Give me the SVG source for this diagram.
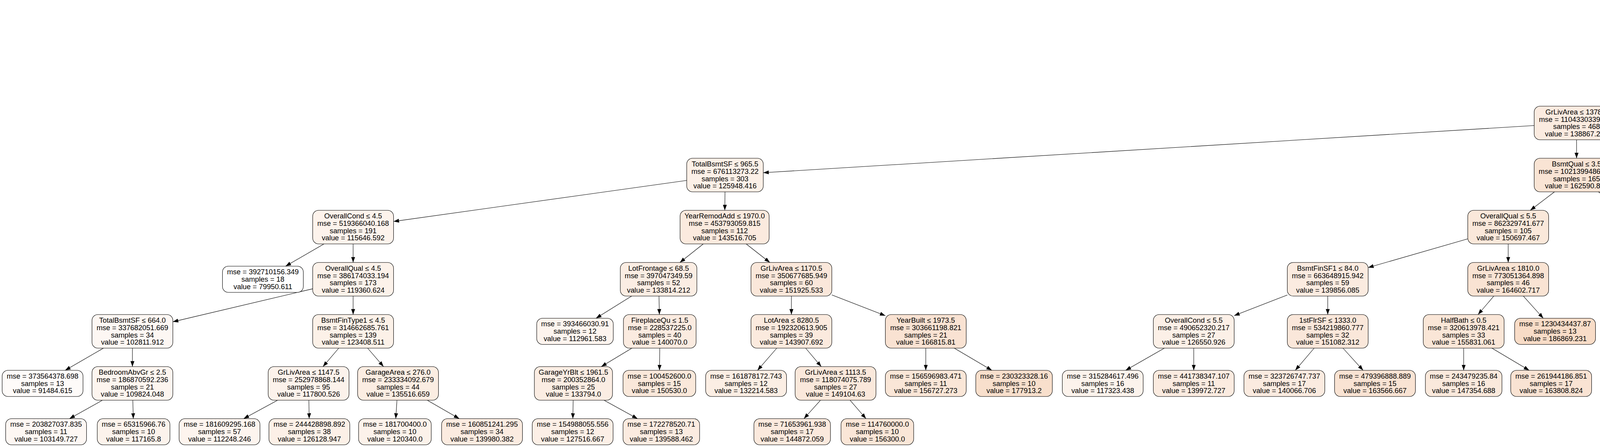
<svg xmlns="http://www.w3.org/2000/svg" width="7531" height="1144" viewBox="0 0 7531 1144">
<style>
.b{stroke:#000;stroke-width:1.1;rx:15px;ry:15px}
text{font-family:"Liberation Sans",Arial,Helvetica,sans-serif;font-size:17.6px;text-anchor:middle;fill:#000}
.e path{stroke:#000;stroke-width:1.1;fill:none;marker-end:url(#ah)}
</style>
<defs>
<marker id="ah" markerUnits="userSpaceOnUse" viewBox="0 0 14 10" refX="14" refY="5" markerWidth="14" markerHeight="10" orient="auto"><path d="M0 0L14 5L0 10z" fill="#000"/></marker>
</defs>
<rect width="7531" height="1144" fill="#fff"/>
<g id="connectors" class="e">
<path d="M6084.5 78.1L5820.5 151.2"/><path d="M6301.5 73.5L6651.5 155.8"/>
<path d="M5603.5 189.9L4144.5 306.1"/><path d="M5712 224.3L5712 271.7"/><path d="M6760 224.3L6760 271.7"/><path d="M6868.5 216.2L7060.5 278.2"/>
<path d="M3927.5 321.3L1954 442"/><path d="M4036 357.7L4036 405"/><path d="M5672.3 357.7L5628.7 405"/><path d="M5752.6 357.7L5797.4 405"/><path d="M6706.1 357.7L6646.9 405"/><path d="M6815.5 357.7L6876.5 405"/><path d="M7174 357.7L7174 414.5"/><path d="M7251.4 357.7L7353.7 414.5"/>
<path d="M1758 461.7L1007.5 566.8"/><path d="M1856 491L1855.5 538.3"/><path d="M3979.5 491L3917.5 538.3"/><path d="M4092.1 491L4153.9 538.3"/><path d="M5512.5 491L5428.5 538.3"/><path d="M5592.5 491L5596.5 538.3"/><path d="M5836.1 491L5833.5 547.8"/><path d="M5913.2 491L6012.4 547.8"/><path d="M6502.4 491L6402.6 538.3"/><path d="M6592.7 491L6592.3 538.3"/><path d="M6939.7 491L6948.3 538.3"/><path d="M7015.6 491L7125.9 547.8"/>
<path d="M829.5 624.3L731.1 681.2"/><path d="M904 624.3L904 671.7"/><path d="M1800.5 624.3L1740.5 671.7"/><path d="M1910.2 624.3L1970.8 671.7"/><path d="M3757.5 611.2L3502.5 684.8"/><path d="M3861 624.3L3861 671.7"/><path d="M4210 624.3L4210 671.7"/><path d="M4282.9 624.3L4379.2 681.2"/><path d="M5271 624.3L5182 671.7"/><path d="M5352 624.3L5352 671.7"/><path d="M5600.6 624.3L5601.5 681.2"/><path d="M5673.6 624.3L5770.7 681.2"/><path d="M6234.3 624.3L6148.7 671.7"/><path d="M6310.1 624.3L6307.5 681.2"/><path d="M6571 624.3L6543.3 681.2"/><path d="M6640.4 624.3L6704.3 681.2"/><path d="M6961.5 624.3L6968.7 681.2"/><path d="M7040.2 624.3L7151.4 681.2"/>
<path d="M800.5 739.1L442.5 823.6"/><path d="M904 757.7L904 805"/><path d="M1617 757.7L1525.8 814.5"/><path d="M1687 757.7L1688 805"/><path d="M2026 757.7L2026 805"/><path d="M2129.5 754.8L2266.5 807.9"/><path d="M3295.5 754.9L3159.5 807.8"/><path d="M3399 757.7L3399 805"/><path d="M3824.2 757.7L3783.8 805"/><path d="M3899.7 757.7L3950.8 814.5"/><path d="M4210 757.7L4209.3 805"/><path d="M4284.8 757.7L4383.7 814.5"/><path d="M5032.9 757.7L4958.1 805"/><path d="M5107.5 757.7L5114.5 805"/><path d="M5352 757.7L5352 814.5"/><path d="M5427.2 757.7L5526.4 814.5"/><path d="M6035.5 757.7L5988.6 814.5"/><path d="M6106.8 757.7L6146.2 805"/>
<path d="M264.8 891L166.8 947.8"/><path d="M339 891L339 938.3"/><path d="M867.2 891L826.8 938.3"/><path d="M941.1 891L981.9 938.3"/><path d="M1617.7 891L1539.3 938.3"/><path d="M1689 891L1688.3 947.8"/><path d="M1988.6 891L1939.2 947.8"/><path d="M2062.5 891L2102.5 938.3"/><path d="M2370 891L2370 947.8"/><path d="M2442.9 891L2539.2 947.8"/><path d="M2980.8 891L2881.6 947.8"/><path d="M3056 891L3056 947.8"/><path d="M3364.2 891L3315.9 947.8"/><path d="M3438 891L3489.6 947.8"/><path d="M3747 891L3747 947.8"/><path d="M3819.3 891L3914.7 947.8"/><path d="M4205.5 891L4200.8 947.8"/><path d="M4277.7 891L4368.5 947.8"/><path d="M4815.5 891L4733.5 938.3"/><path d="M4890 891L4890 938.3"/><path d="M5121 891L5120.3 947.8"/><path d="M5196.2 891L5295.4 947.8"/><path d="M6144.6 891L6095.2 947.8"/><path d="M6219.4 891L6268.8 947.8"/>
<path d="M262.2 1024.3L177.8 1071.5"/><path d="M340 1024.3L341.2 1071.5"/><path d="M710.7 1024.3L623.7 1071.5"/><path d="M790.7 1024.3L791.5 1071.5"/><path d="M1016.2 1024.3L1013.2 1071.5"/><path d="M1093.7 1024.3L1175.8 1071.5"/><path d="M1467.3 1024.3L1466.5 1071.5"/><path d="M1546.2 1024.3L1632.1 1071.5"/><path d="M2100.4 1024.3L2058.1 1071.5"/><path d="M2176.2 1024.3L2217 1071.5"/><path d="M4580.8 1024.3L4494.9 1071.5"/><path d="M4658 1024.3L4656.8 1071.5"/><path d="M4888.6 1024.3L4887.1 1071.5"/><path d="M4966.5 1024.3L5050.4 1071.5"/>
<text transform="translate(5839 127.5) scale(1.045 1)">True</text>
<text transform="translate(6634 133.5) scale(1.045 1)">False</text>
</g>
<g id="n0" transform="translate(6193 48)"><rect class="b" x="-108.5" y="-43" width="217" height="86" fill="#f8ddc9"/><g transform="scale(1.045 1)"><text y="-22.2">OverallQual ≤ 7.5</text><text y="-3.2">mse = 6525449911.434</text><text y="15.8">samples = 784</text><text y="33.9">value = 183406.997</text></g></g>
<g id="n1" transform="translate(5712 181.3)"><rect class="b" x="-108.5" y="-43" width="217" height="86" fill="#fae5d6"/><g transform="scale(1.045 1)"><text y="-22.2">OverallQual ≤ 6.5</text><text y="-3.2">mse = 2330876511.717</text><text y="15.8">samples = 650</text><text y="33.9">value = 158150.342</text></g></g>
<g id="n2" transform="translate(6760 181.3)"><rect class="b" x="-108.5" y="-43" width="217" height="86" fill="#f0b489"/><g transform="scale(1.045 1)"><text y="-22.2">BsmtFinSF1 ≤ 1317.0</text><text y="-3.2">mse = 8768387203.338</text><text y="15.8">samples = 134</text><text y="33.9">value = 305920.627</text></g></g>
<g id="n3" transform="translate(4036 314.7)"><rect class="b" x="-108.5" y="-43" width="217" height="86" fill="#fbebe0"/><g transform="scale(1.045 1)"><text y="-22.2">GrLivArea ≤ 1378.5</text><text y="-3.2">mse = 1104330339.898</text><text y="15.8">samples = 468</text><text y="33.9">value = 138867.235</text></g></g>
<g id="n4" transform="translate(5712 314.7)"><rect class="b" x="-108.5" y="-43" width="217" height="86" fill="#f6d5bc"/><g transform="scale(1.045 1)"><text y="-22.2">GrLivArea ≤ 2033.5</text><text y="-3.2">mse = 2070011805.447</text><text y="15.8">samples = 182</text><text y="33.9">value = 207735.473</text></g></g>
<g id="n5" transform="translate(6760 314.7)"><rect class="b" x="-108.5" y="-43" width="217" height="86" fill="#f1bc96"/><g transform="scale(1.045 1)"><text y="-22.2">GrLivArea ≤ 1941.5</text><text y="-3.2">mse = 3779426272.279</text><text y="15.8">samples = 106</text><text y="33.9">value = 280644.245</text></g></g>
<g id="n6" transform="translate(7174 314.7)"><rect class="b" x="-113.5" y="-43" width="227" height="86" fill="#e99457"/><g transform="scale(1.045 1)"><text y="-22.2">GrLivArea ≤ 2058.5</text><text y="-3.2">mse = 16080077057.383</text><text y="15.8">samples = 28</text><text y="33.9">value = 401609.786</text></g></g>
<g id="n7" transform="translate(1856 448)"><rect class="b" x="-98" y="-43" width="196" height="86" fill="#fcf0e7"/><g transform="scale(1.045 1)"><text y="-22.2">TotalBsmtSF ≤ 965.5</text><text y="-3.2">mse = 676113273.22</text><text y="15.8">samples = 303</text><text y="33.9">value = 125948.416</text></g></g>
<g id="n8" transform="translate(4036 448)"><rect class="b" x="-108.5" y="-43" width="217" height="86" fill="#f9e4d4"/><g transform="scale(1.045 1)"><text y="-22.2">BsmtQual ≤ 3.5</text><text y="-3.2">mse = 1021399486.878</text><text y="15.8">samples = 165</text><text y="33.9">value = 162590.885</text></g></g>
<g id="n9" transform="translate(5589 448)"><rect class="b" x="-116" y="-43" width="232" height="86" fill="#f7d8c2"/><g transform="scale(1.045 1)"><text y="-22.2">GarageType_BuiltIn ≤ 0.5</text><text y="-3.2">mse = 1301258957.91</text><text y="15.8">samples = 156</text><text y="33.9">value = 197306.712</text></g></g>
<g id="n10" transform="translate(5838 448)"><rect class="b" x="-108.5" y="-43" width="217" height="86" fill="#f2c09c"/><g transform="scale(1.045 1)"><text y="-22.2">BsmtFinType1 ≤ 4.5</text><text y="-3.2">mse = 2114648548.499</text><text y="15.8">samples = 26</text><text y="33.9">value = 270308.038</text></g></g>
<g id="n11" transform="translate(6593 448)"><rect class="b" x="-108.5" y="-43" width="217" height="86" fill="#f3c5a3"/><g transform="scale(1.045 1)"><text y="-22.2">BsmtFinSF1 ≤ 896.0</text><text y="-3.2">mse = 2351168870.333</text><text y="15.8">samples = 66</text><text y="33.9">value = 256398.409</text></g></g>
<g id="n12" transform="translate(6932 448)"><rect class="b" x="-108.5" y="-43" width="217" height="86" fill="#efaf82"/><g transform="scale(1.045 1)"><text y="-22.2">OverallQual ≤ 8.5</text><text y="-3.2">mse = 3565630631.559</text><text y="15.8">samples = 40</text><text y="33.9">value = 320649.875</text></g></g>
<g id="n13" transform="translate(7174 448)"><rect class="b" x="-108.5" y="-33.5" width="217" height="67" fill="#eca572"/><g transform="scale(1.045 1)"><text y="-12.7">mse = 2320974343.262</text><text y="6.3">samples = 15</text><text y="25">value = 350981.733</text></g></g>
<g id="n14" transform="translate(7414 448)"><rect class="b" x="-108.5" y="-33.5" width="217" height="67" fill="#e58139"/><g transform="scale(1.045 1)"><text y="-12.7">mse = 25585882739.87</text><text y="6.3">samples = 13</text><text y="25">value = 460026.769</text></g></g>
<g id="n15" transform="translate(904 581.3)"><rect class="b" x="-103.5" y="-43" width="207" height="86" fill="#fdf3ec"/><g transform="scale(1.045 1)"><text y="-22.2">OverallCond ≤ 4.5</text><text y="-3.2">mse = 519366040.168</text><text y="15.8">samples = 191</text><text y="33.9">value = 115646.592</text></g></g>
<g id="n16" transform="translate(1855 581.3)"><rect class="b" x="-114" y="-43" width="228" height="86" fill="#fbeade"/><g transform="scale(1.045 1)"><text y="-22.2">YearRemodAdd ≤ 1970.0</text><text y="-3.2">mse = 453793059.815</text><text y="15.8">samples = 112</text><text y="33.9">value = 143516.705</text></g></g>
<g id="n17" transform="translate(3861 581.3)"><rect class="b" x="-103.5" y="-43" width="207" height="86" fill="#fae8da"/><g transform="scale(1.045 1)"><text y="-22.2">OverallQual ≤ 5.5</text><text y="-3.2">mse = 862329741.677</text><text y="15.8">samples = 105</text><text y="33.9">value = 150697.467</text></g></g>
<g id="n18" transform="translate(4210 581.3)"><rect class="b" x="-103.5" y="-43" width="207" height="86" fill="#f8ddc9"/><g transform="scale(1.045 1)"><text y="-22.2">MSSubClass ≤ 72.5</text><text y="-3.2">mse = 619027072.499</text><text y="15.8">samples = 60</text><text y="33.9">value = 183404.367</text></g></g>
<g id="n19" transform="translate(5352 581.3)"><rect class="b" x="-108.5" y="-43" width="217" height="86" fill="#f6d5bd"/><g transform="scale(1.045 1)"><text y="-22.2">TotalBsmtSF ≤ 1492.0</text><text y="-3.2">mse = 1014782682.325</text><text y="15.8">samples = 127</text><text y="33.9">value = 206279.882</text></g></g>
<g id="n20" transform="translate(5600 581.3)"><rect class="b" x="-103.5" y="-43" width="207" height="86" fill="#fae5d6"/><g transform="scale(1.045 1)"><text y="-22.2">MSZoning_RL ≤ 0.5</text><text y="-3.2">mse = 659016084.794</text><text y="15.8">samples = 29</text><text y="33.9">value = 158010.414</text></g></g>
<g id="n21" transform="translate(5832 581.3)"><rect class="b" x="-108.5" y="-33.5" width="217" height="67" fill="#f4c9ab"/><g transform="scale(1.045 1)"><text y="-12.7">mse = 1115973634.864</text><text y="6.3">samples = 13</text><text y="25">value = 241344.538</text></g></g>
<g id="n22" transform="translate(6071 581.3)"><rect class="b" x="-108.5" y="-33.5" width="217" height="67" fill="#f0b68d"/><g transform="scale(1.045 1)"><text y="-12.7">mse = 1435554797.633</text><text y="6.3">samples = 13</text><text y="25">value = 299271.538</text></g></g>
<g id="n23" transform="translate(6312 581.3)"><rect class="b" x="-108.5" y="-43" width="217" height="86" fill="#f4cbad"/><g transform="scale(1.045 1)"><text y="-22.2">KitchenQual ≤ 3.5</text><text y="-3.2">mse = 1579119231.314</text><text y="15.8">samples = 46</text><text y="33.9">value = 237765.109</text></g></g>
<g id="n24" transform="translate(6592 581.3)"><rect class="b" x="-98" y="-43" width="196" height="86" fill="#f0b68d"/><g transform="scale(1.045 1)"><text y="-22.2">YearBuilt ≤ 2005.5</text><text y="-3.2">mse = 1491635923.4</text><text y="15.8">samples = 20</text><text y="33.9">value = 299255.0</text></g></g>
<g id="n25" transform="translate(6956 581.3)"><rect class="b" x="-108.5" y="-43" width="217" height="86" fill="#f0b68c"/><g transform="scale(1.045 1)"><text y="-22.2">1stFlrSF ≤ 1486.0</text><text y="-3.2">mse = 1995947417.316</text><text y="15.8">samples = 30</text><text y="33.9">value = 300579.533</text></g></g>
<g id="n26" transform="translate(7191 581.3)"><rect class="b" x="-103.5" y="-33.5" width="207" height="67" fill="#ea9b62"/><g transform="scale(1.045 1)"><text y="-12.7">mse = 3440856898.89</text><text y="6.3">samples = 10</text><text y="25">value = 380860.9</text></g></g>
<g id="n27" transform="translate(673 714.7)"><rect class="b" x="-103.5" y="-33.5" width="207" height="67" fill="#ffffff"/><g transform="scale(1.045 1)"><text y="-12.7">mse = 392710156.349</text><text y="6.3">samples = 18</text><text y="25">value = 79950.611</text></g></g>
<g id="n28" transform="translate(904 714.7)"><rect class="b" x="-103.5" y="-43" width="207" height="86" fill="#fcf2ea"/><g transform="scale(1.045 1)"><text y="-22.2">OverallQual ≤ 4.5</text><text y="-3.2">mse = 386174033.194</text><text y="15.8">samples = 173</text><text y="33.9">value = 119360.624</text></g></g>
<g id="n29" transform="translate(1686 714.7)"><rect class="b" x="-98" y="-43" width="196" height="86" fill="#fbede3"/><g transform="scale(1.045 1)"><text y="-22.2">LotFrontage ≤ 68.5</text><text y="-3.2">mse = 397047349.59</text><text y="15.8">samples = 52</text><text y="33.9">value = 133814.212</text></g></g>
<g id="n30" transform="translate(2026 714.7)"><rect class="b" x="-103.5" y="-43" width="207" height="86" fill="#fae7da"/><g transform="scale(1.045 1)"><text y="-22.2">GrLivArea ≤ 1170.5</text><text y="-3.2">mse = 350677685.949</text><text y="15.8">samples = 60</text><text y="33.9">value = 151925.533</text></g></g>
<g id="n31" transform="translate(3399 714.7)"><rect class="b" x="-103.5" y="-43" width="207" height="86" fill="#fbebe0"/><g transform="scale(1.045 1)"><text y="-22.2">BsmtFinSF1 ≤ 84.0</text><text y="-3.2">mse = 663648915.942</text><text y="15.8">samples = 59</text><text y="33.9">value = 139856.085</text></g></g>
<g id="n32" transform="translate(3861 714.7)"><rect class="b" x="-103.5" y="-43" width="207" height="86" fill="#f9e3d3"/><g transform="scale(1.045 1)"><text y="-22.2">GrLivArea ≤ 1810.0</text><text y="-3.2">mse = 773051364.898</text><text y="15.8">samples = 46</text><text y="33.9">value = 164602.717</text></g></g>
<g id="n33" transform="translate(4210 714.7)"><rect class="b" x="-103.5" y="-43" width="207" height="86" fill="#f8dbc6"/><g transform="scale(1.045 1)"><text y="-22.2">GarageArea ≤ 507.5</text><text y="-3.2">mse = 522012168.664</text><text y="15.8">samples = 49</text><text y="33.9">value = 189199.224</text></g></g>
<g id="n34" transform="translate(4436 714.7)"><rect class="b" x="-98" y="-33.5" width="196" height="67" fill="#fae5d7"/><g transform="scale(1.045 1)"><text y="-12.7">mse = 235264462.81</text><text y="6.3">samples = 11</text><text y="25">value = 157590.909</text></g></g>
<g id="n35" transform="translate(5101 714.7)"><rect class="b" x="-103.5" y="-43" width="207" height="86" fill="#f7d8c1"/><g transform="scale(1.045 1)"><text y="-22.2">GrLivArea ≤ 1734.0</text><text y="-3.2">mse = 639625281.685</text><text y="15.8">samples = 101</text><text y="33.9">value = 198478.168</text></g></g>
<g id="n36" transform="translate(5352 714.7)"><rect class="b" x="-124.5" y="-43" width="249" height="86" fill="#f4cbad"/><g transform="scale(1.045 1)"><text y="-22.2">MasVnrType_BrkCmn ≤ 0.5</text><text y="-3.2">mse = 1317187606.018</text><text y="15.8">samples = 26</text><text y="33.9">value = 236586.538</text></g></g>
<g id="n37" transform="translate(5602 714.7)"><rect class="b" x="-98" y="-33.5" width="196" height="67" fill="#f9e2d1"/><g transform="scale(1.045 1)"><text y="-12.7">mse = 672618040.36</text><text y="6.3">samples = 17</text><text y="25">value = 168876.588</text></g></g>
<g id="n38" transform="translate(5828 714.7)"><rect class="b" x="-103.5" y="-33.5" width="207" height="67" fill="#fbeade"/><g transform="scale(1.045 1)"><text y="-12.7">mse = 235508055.556</text><text y="6.3">samples = 12</text><text y="25">value = 142616.667</text></g></g>
<g id="n39" transform="translate(6071 714.7)"><rect class="b" x="-108.5" y="-43" width="217" height="86" fill="#f5cfb3"/><g transform="scale(1.045 1)"><text y="-22.2">GarageArea ≤ 497.0</text><text y="-3.2">mse = 1246014424.477</text><text y="15.8">samples = 35</text><text y="33.9">value = 225460.543</text></g></g>
<g id="n40" transform="translate(6306 714.7)"><rect class="b" x="-103.5" y="-33.5" width="207" height="67" fill="#f2be98"/><g transform="scale(1.045 1)"><text y="-12.7">mse = 624471152.545</text><text y="6.3">samples = 11</text><text y="25">value = 276916.0</text></g></g>
<g id="n41" transform="translate(6527 714.7)"><rect class="b" x="-93" y="-33.5" width="186" height="67" fill="#f1bd97"/><g transform="scale(1.045 1)"><text y="-12.7">mse = 795753600.0</text><text y="6.3">samples = 10</text><text y="25">value = 279280.0</text></g></g>
<g id="n42" transform="translate(6742 714.7)"><rect class="b" x="-98" y="-33.5" width="196" height="67" fill="#efb082"/><g transform="scale(1.045 1)"><text y="-12.7">mse = 1389516996.8</text><text y="6.3">samples = 10</text><text y="25">value = 319230.0</text></g></g>
<g id="n43" transform="translate(6973 714.7)"><rect class="b" x="-108.5" y="-33.5" width="217" height="67" fill="#f1bb94"/><g transform="scale(1.045 1)"><text y="-12.7">mse = 1314429479.773</text><text y="6.3">samples = 19</text><text y="25">value = 285445.737</text></g></g>
<g id="n44" transform="translate(7217 714.7)"><rect class="b" x="-108.5" y="-33.5" width="217" height="67" fill="#eead7e"/><g transform="scale(1.045 1)"><text y="-12.7">mse = 2094204649.471</text><text y="6.3">samples = 11</text><text y="25">value = 326719.727</text></g></g>
<g id="n45" transform="translate(339 848)"><rect class="b" x="-103.5" y="-43" width="207" height="86" fill="#fdf7f3"/><g transform="scale(1.045 1)"><text y="-22.2">TotalBsmtSF ≤ 664.0</text><text y="-3.2">mse = 337682051.669</text><text y="15.8">samples = 34</text><text y="33.9">value = 102811.912</text></g></g>
<g id="n46" transform="translate(904 848)"><rect class="b" x="-103.5" y="-43" width="207" height="86" fill="#fcf1e8"/><g transform="scale(1.045 1)"><text y="-22.2">BsmtFinType1 ≤ 4.5</text><text y="-3.2">mse = 314662685.761</text><text y="15.8">samples = 139</text><text y="33.9">value = 123408.511</text></g></g>
<g id="n47" transform="translate(1472 848)"><rect class="b" x="-98" y="-33.5" width="196" height="67" fill="#fdf4ee"/><g transform="scale(1.045 1)"><text y="-12.7">mse = 393466030.91</text><text y="6.3">samples = 12</text><text y="25">value = 112961.583</text></g></g>
<g id="n48" transform="translate(1689 848)"><rect class="b" x="-93" y="-43" width="186" height="86" fill="#fbebe0"/><g transform="scale(1.045 1)"><text y="-22.2">FireplaceQu ≤ 1.5</text><text y="-3.2">mse = 228537225.0</text><text y="15.8">samples = 40</text><text y="33.9">value = 140070.0</text></g></g>
<g id="n49" transform="translate(2026 848)"><rect class="b" x="-103.5" y="-43" width="207" height="86" fill="#fbeade"/><g transform="scale(1.045 1)"><text y="-22.2">LotArea ≤ 8280.5</text><text y="-3.2">mse = 192320613.905</text><text y="15.8">samples = 39</text><text y="33.9">value = 143907.692</text></g></g>
<g id="n50" transform="translate(2370 848)"><rect class="b" x="-103.5" y="-43" width="207" height="86" fill="#f9e2d2"/><g transform="scale(1.045 1)"><text y="-22.2">YearBuilt ≤ 1973.5</text><text y="-3.2">mse = 303661198.821</text><text y="15.8">samples = 21</text><text y="33.9">value = 166815.81</text></g></g>
<g id="n51" transform="translate(3056 848)"><rect class="b" x="-103.5" y="-43" width="207" height="86" fill="#fcf0e7"/><g transform="scale(1.045 1)"><text y="-22.2">OverallCond ≤ 5.5</text><text y="-3.2">mse = 490652320.217</text><text y="15.8">samples = 27</text><text y="33.9">value = 126550.926</text></g></g>
<g id="n52" transform="translate(3399 848)"><rect class="b" x="-103.5" y="-43" width="207" height="86" fill="#fae7da"/><g transform="scale(1.045 1)"><text y="-22.2">1stFlrSF ≤ 1333.0</text><text y="-3.2">mse = 534219860.777</text><text y="15.8">samples = 32</text><text y="33.9">value = 151082.312</text></g></g>
<g id="n53" transform="translate(3747 848)"><rect class="b" x="-103.5" y="-43" width="207" height="86" fill="#fae6d7"/><g transform="scale(1.045 1)"><text y="-22.2">HalfBath ≤ 0.5</text><text y="-3.2">mse = 320613978.421</text><text y="15.8">samples = 33</text><text y="33.9">value = 155831.061</text></g></g>
<g id="n54" transform="translate(3981 848)"><rect class="b" x="-103.5" y="-33.5" width="207" height="67" fill="#f8dcc7"/><g transform="scale(1.045 1)"><text y="-12.7">mse = 1230434437.87</text><text y="6.3">samples = 13</text><text y="25">value = 186869.231</text></g></g>
<g id="n55" transform="translate(4209 848)"><rect class="b" x="-103.5" y="-43" width="207" height="86" fill="#f8decb"/><g transform="scale(1.045 1)"><text y="-22.2">Unnamed: 0 ≤ 914.5</text><text y="-3.2">mse = 356256885.862</text><text y="15.8">samples = 30</text><text y="33.9">value = 179903.733</text></g></g>
<g id="n56" transform="translate(4442 848)"><rect class="b" x="-103.5" y="-33.5" width="207" height="67" fill="#f7d6be"/><g transform="scale(1.045 1)"><text y="-12.7">mse = 431883254.848</text><text y="6.3">samples = 19</text><text y="25">value = 203876.316</text></g></g>
<g id="n57" transform="translate(4890 848)"><rect class="b" x="-103.5" y="-43" width="207" height="86" fill="#f8dbc6"/><g transform="scale(1.045 1)"><text y="-22.2">OpenPorchSF ≤ 28.0</text><text y="-3.2">mse = 374267540.119</text><text y="15.8">samples = 69</text><text y="33.9">value = 188937.623</text></g></g>
<g id="n58" transform="translate(5121 848)"><rect class="b" x="-103.5" y="-43" width="207" height="86" fill="#f5d1b7"/><g transform="scale(1.045 1)"><text y="-22.2">TotalBsmtSF ≤ 867.0</text><text y="-3.2">mse = 592337748.468</text><text y="15.8">samples = 32</text><text y="33.9">value = 219049.969</text></g></g>
<g id="n59" transform="translate(5352 848)"><rect class="b" x="-103.5" y="-33.5" width="207" height="67" fill="#f3c3a1"/><g transform="scale(1.045 1)"><text y="-12.7">mse = 1499455162.38</text><text y="6.3">samples = 11</text><text y="25">value = 260722.727</text></g></g>
<g id="n60" transform="translate(5585 848)"><rect class="b" x="-103.5" y="-33.5" width="207" height="67" fill="#f5d1b7"/><g transform="scale(1.045 1)"><text y="-12.7">mse = 443031822.222</text><text y="6.3">samples = 15</text><text y="25">value = 218886.667</text></g></g>
<g id="n61" transform="translate(5961 848)"><rect class="b" x="-93" y="-33.5" width="186" height="67" fill="#f8dbc6"/><g transform="scale(1.045 1)"><text y="-12.7">mse = 348710000.0</text><text y="6.3">samples = 10</text><text y="25">value = 189200.0</text></g></g>
<g id="n62" transform="translate(6182 848)"><rect class="b" x="-103.5" y="-43" width="207" height="86" fill="#f4caac"/><g transform="scale(1.045 1)"><text y="-22.2">LotArea ≤ 10103.0</text><text y="-3.2">mse = 868633092.022</text><text y="15.8">samples = 25</text><text y="33.9">value = 239964.76</text></g></g>
<g id="n63" transform="translate(109 981.3)"><rect class="b" x="-103.5" y="-33.5" width="207" height="67" fill="#fefbf9"/><g transform="scale(1.045 1)"><text y="-12.7">mse = 373564378.698</text><text y="6.3">samples = 13</text><text y="25">value = 91484.615</text></g></g>
<g id="n64" transform="translate(339 981.3)"><rect class="b" x="-103.5" y="-43" width="207" height="86" fill="#fdf5ef"/><g transform="scale(1.045 1)"><text y="-22.2">BedroomAbvGr ≤ 2.5</text><text y="-3.2">mse = 186870592.236</text><text y="15.8">samples = 21</text><text y="33.9">value = 109824.048</text></g></g>
<g id="n65" transform="translate(790 981.3)"><rect class="b" x="-103.5" y="-43" width="207" height="86" fill="#fcf2eb"/><g transform="scale(1.045 1)"><text y="-22.2">GrLivArea ≤ 1147.5</text><text y="-3.2">mse = 252978868.144</text><text y="15.8">samples = 95</text><text y="33.9">value = 117800.526</text></g></g>
<g id="n66" transform="translate(1019 981.3)"><rect class="b" x="-103.5" y="-43" width="207" height="86" fill="#fbede2"/><g transform="scale(1.045 1)"><text y="-22.2">GarageArea ≤ 276.0</text><text y="-3.2">mse = 233334092.679</text><text y="15.8">samples = 44</text><text y="33.9">value = 135516.659</text></g></g>
<g id="n67" transform="translate(1468 981.3)"><rect class="b" x="-100" y="-43" width="200" height="86" fill="#fbede3"/><g transform="scale(1.045 1)"><text y="-22.2">GarageYrBlt ≤ 1961.5</text><text y="-3.2">mse = 200352864.0</text><text y="15.8">samples = 25</text><text y="33.9">value = 133794.0</text></g></g>
<g id="n68" transform="translate(1688 981.3)"><rect class="b" x="-93" y="-33.5" width="186" height="67" fill="#fae8da"/><g transform="scale(1.045 1)"><text y="-12.7">mse = 100452600.0</text><text y="6.3">samples = 15</text><text y="25">value = 150530.0</text></g></g>
<g id="n69" transform="translate(1910 981.3)"><rect class="b" x="-103.5" y="-33.5" width="207" height="67" fill="#fbeee4"/><g transform="scale(1.045 1)"><text y="-12.7">mse = 161878172.743</text><text y="6.3">samples = 12</text><text y="25">value = 132214.583</text></g></g>
<g id="n70" transform="translate(2139 981.3)"><rect class="b" x="-103.5" y="-43" width="207" height="86" fill="#fae8db"/><g transform="scale(1.045 1)"><text y="-22.2">GrLivArea ≤ 1113.5</text><text y="-3.2">mse = 118074075.789</text><text y="15.8">samples = 27</text><text y="33.9">value = 149104.63</text></g></g>
<g id="n71" transform="translate(2370 981.3)"><rect class="b" x="-103.5" y="-33.5" width="207" height="67" fill="#fae6d7"/><g transform="scale(1.045 1)"><text y="-12.7">mse = 156596983.471</text><text y="6.3">samples = 11</text><text y="25">value = 156727.273</text></g></g>
<g id="n72" transform="translate(2596 981.3)"><rect class="b" x="-98" y="-33.5" width="196" height="67" fill="#f8dfcc"/><g transform="scale(1.045 1)"><text y="-12.7">mse = 230323328.16</text><text y="6.3">samples = 10</text><text y="25">value = 177913.2</text></g></g>
<g id="n73" transform="translate(2823 981.3)"><rect class="b" x="-103.5" y="-33.5" width="207" height="67" fill="#fcf3ec"/><g transform="scale(1.045 1)"><text y="-12.7">mse = 315284617.496</text><text y="6.3">samples = 16</text><text y="25">value = 117323.438</text></g></g>
<g id="n74" transform="translate(3056 981.3)"><rect class="b" x="-103.5" y="-33.5" width="207" height="67" fill="#fbebe0"/><g transform="scale(1.045 1)"><text y="-12.7">mse = 441738347.107</text><text y="6.3">samples = 11</text><text y="25">value = 139972.727</text></g></g>
<g id="n75" transform="translate(3288 981.3)"><rect class="b" x="-103.5" y="-33.5" width="207" height="67" fill="#fbebe0"/><g transform="scale(1.045 1)"><text y="-12.7">mse = 323726747.737</text><text y="6.3">samples = 17</text><text y="25">value = 140066.706</text></g></g>
<g id="n76" transform="translate(3520 981.3)"><rect class="b" x="-103.5" y="-33.5" width="207" height="67" fill="#f9e3d3"/><g transform="scale(1.045 1)"><text y="-12.7">mse = 479396888.889</text><text y="6.3">samples = 15</text><text y="25">value = 163566.667</text></g></g>
<g id="n77" transform="translate(3747 981.3)"><rect class="b" x="-98" y="-33.5" width="196" height="67" fill="#fae9dc"/><g transform="scale(1.045 1)"><text y="-12.7">mse = 243479235.84</text><text y="6.3">samples = 16</text><text y="25">value = 147354.688</text></g></g>
<g id="n78" transform="translate(3971 981.3)"><rect class="b" x="-103.5" y="-33.5" width="207" height="67" fill="#f9e3d3"/><g transform="scale(1.045 1)"><text y="-12.7">mse = 261944186.851</text><text y="6.3">samples = 17</text><text y="25">value = 163808.824</text></g></g>
<g id="n79" transform="translate(4198 981.3)"><rect class="b" x="-98" y="-33.5" width="196" height="67" fill="#f8dfcd"/><g transform="scale(1.045 1)"><text y="-12.7">mse = 190968619.83</text><text y="6.3">samples = 18</text><text y="25">value = 175426.944</text></g></g>
<g id="n80" transform="translate(4422 981.3)"><rect class="b" x="-103.5" y="-33.5" width="207" height="67" fill="#f8dcc7"/><g transform="scale(1.045 1)"><text y="-12.7">mse = 529033139.576</text><text y="6.3">samples = 12</text><text y="25">value = 186618.917</text></g></g>
<g id="n81" transform="translate(4659 981.3)"><rect class="b" x="-103.5" y="-43" width="207" height="86" fill="#f8decb"/><g transform="scale(1.045 1)"><text y="-22.2">BsmtExposure ≤ 2.0</text><text y="-3.2">mse = 416802927.515</text><text y="15.8">samples = 28</text><text y="33.9">value = 178849.357</text></g></g>
<g id="n82" transform="translate(4890 981.3)"><rect class="b" x="-103.5" y="-43" width="207" height="86" fill="#f7d9c3"/><g transform="scale(1.045 1)"><text y="-22.2">MasVnrArea ≤ 99.0</text><text y="-3.2">mse = 228249528.971</text><text y="15.8">samples = 41</text><text y="33.9">value = 195827.171</text></g></g>
<g id="n83" transform="translate(5120 981.3)"><rect class="b" x="-103.5" y="-33.5" width="207" height="67" fill="#f7d6bf"/><g transform="scale(1.045 1)"><text y="-12.7">mse = 229169940.828</text><text y="6.3">samples = 13</text><text y="25">value = 203607.692</text></g></g>
<g id="n84" transform="translate(5354 981.3)"><rect class="b" x="-103.5" y="-33.5" width="207" height="67" fill="#f5cdb1"/><g transform="scale(1.045 1)"><text y="-12.7">mse = 566026018.194</text><text y="6.3">samples = 19</text><text y="25">value = 229615.737</text></g></g>
<g id="n85" transform="translate(6066 981.3)"><rect class="b" x="-103.5" y="-33.5" width="207" height="67" fill="#f5cfb4"/><g transform="scale(1.045 1)"><text y="-12.7">mse = 855382894.628</text><text y="6.3">samples = 11</text><text y="25">value = 223275.909</text></g></g>
<g id="n86" transform="translate(6298 981.3)"><rect class="b" x="-103.5" y="-33.5" width="207" height="67" fill="#f3c6a5"/><g transform="scale(1.045 1)"><text y="-12.7">mse = 488266513.531</text><text y="6.3">samples = 14</text><text y="25">value = 253077.429</text></g></g>
<g id="n87" transform="translate(118 1105)"><rect class="b" x="-103.5" y="-33.5" width="207" height="67" fill="#fdf7f3"/><g transform="scale(1.045 1)"><text y="-12.7">mse = 203827037.835</text><text y="6.3">samples = 11</text><text y="25">value = 103149.727</text></g></g>
<g id="n88" transform="translate(342 1105)"><rect class="b" x="-93" y="-33.5" width="186" height="67" fill="#fcf3ec"/><g transform="scale(1.045 1)"><text y="-12.7">mse = 65315966.76</text><text y="6.3">samples = 10</text><text y="25">value = 117165.8</text></g></g>
<g id="n89" transform="translate(562 1105)"><rect class="b" x="-103.5" y="-33.5" width="207" height="67" fill="#fdf4ee"/><g transform="scale(1.045 1)"><text y="-12.7">mse = 181609295.168</text><text y="6.3">samples = 57</text><text y="25">value = 112248.246</text></g></g>
<g id="n90" transform="translate(792 1105)"><rect class="b" x="-103.5" y="-33.5" width="207" height="67" fill="#fcf0e7"/><g transform="scale(1.045 1)"><text y="-12.7">mse = 244428898.892</text><text y="6.3">samples = 38</text><text y="25">value = 126128.947</text></g></g>
<g id="n91" transform="translate(1011 1105)"><rect class="b" x="-93" y="-33.5" width="186" height="67" fill="#fcf2ea"/><g transform="scale(1.045 1)"><text y="-12.7">mse = 181700400.0</text><text y="6.3">samples = 10</text><text y="25">value = 120340.0</text></g></g>
<g id="n92" transform="translate(1234 1105)"><rect class="b" x="-103.5" y="-33.5" width="207" height="67" fill="#fbebe0"/><g transform="scale(1.045 1)"><text y="-12.7">mse = 160851241.295</text><text y="6.3">samples = 34</text><text y="25">value = 139980.382</text></g></g>
<g id="n93" transform="translate(1466 1105)"><rect class="b" x="-103.5" y="-33.5" width="207" height="67" fill="#fcefe6"/><g transform="scale(1.045 1)"><text y="-12.7">mse = 154988055.556</text><text y="6.3">samples = 12</text><text y="25">value = 127516.667</text></g></g>
<g id="n94" transform="translate(1693 1105)"><rect class="b" x="-98" y="-33.5" width="196" height="67" fill="#fbebe0"/><g transform="scale(1.045 1)"><text y="-12.7">mse = 172278520.71</text><text y="6.3">samples = 13</text><text y="25">value = 139588.462</text></g></g>
<g id="n95" transform="translate(2028 1105)"><rect class="b" x="-98" y="-33.5" width="196" height="67" fill="#fbe9dd"/><g transform="scale(1.045 1)"><text y="-12.7">mse = 71653961.938</text><text y="6.3">samples = 17</text><text y="25">value = 144872.059</text></g></g>
<g id="n96" transform="translate(2246 1105)"><rect class="b" x="-93" y="-33.5" width="186" height="67" fill="#fae6d7"/><g transform="scale(1.045 1)"><text y="-12.7">mse = 114760000.0</text><text y="6.3">samples = 10</text><text y="25">value = 156300.0</text></g></g>
<g id="n97" transform="translate(4434 1105)"><rect class="b" x="-103.5" y="-33.5" width="207" height="67" fill="#f9e2d1"/><g transform="scale(1.045 1)"><text y="-12.7">mse = 195183294.083</text><text y="6.3">samples = 13</text><text y="25">value = 167910.385</text></g></g>
<g id="n98" transform="translate(4656 1105)"><rect class="b" x="-98" y="-33.5" width="196" height="67" fill="#f8ddc9"/><g transform="scale(1.045 1)"><text y="-12.7">mse = 415288175.76</text><text y="6.3">samples = 15</text><text y="25">value = 183329.8</text></g></g>
<g id="n99" transform="translate(4886 1105)"><rect class="b" x="-103.5" y="-33.5" width="207" height="67" fill="#f7dac6"/><g transform="scale(1.045 1)"><text y="-12.7">mse = 103808971.061</text><text y="6.3">samples = 28</text><text y="25">value = 190263.714</text></g></g>
<g id="n100" transform="translate(5110 1105)"><rect class="b" x="-93" y="-33.5" width="186" height="67" fill="#f6d5bc"/><g transform="scale(1.045 1)"><text y="-12.7">mse = 286021200.0</text><text y="6.3">samples = 13</text><text y="25">value = 207810.0</text></g></g>
</svg>
